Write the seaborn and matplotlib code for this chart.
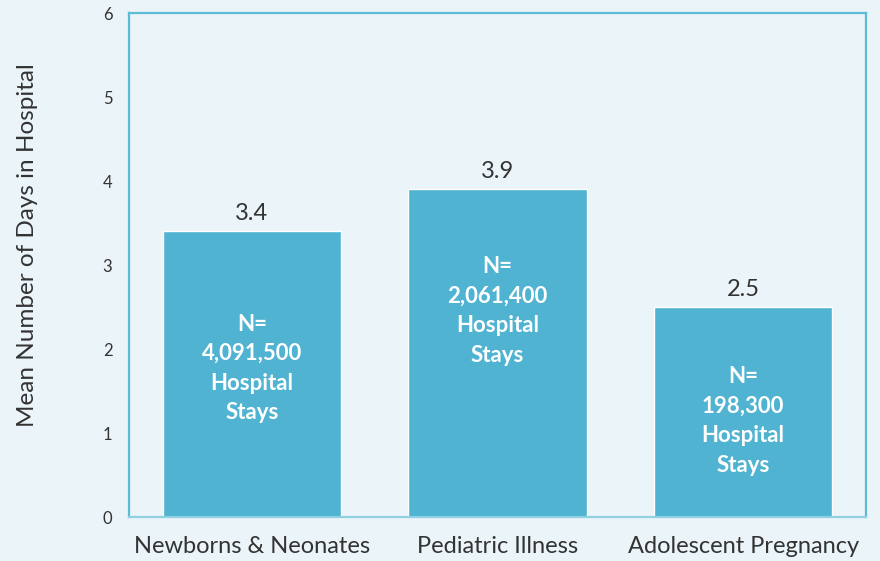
import numpy as np
import pandas as pd
import seaborn as sns
import matplotlib.pyplot as plt

categories = ["Newborns & Neonates", "Pediatric Illness", "Adolescent Pregnancy"]
mean_days = [3.4, 3.9, 2.5]
stay_counts = ["4,091,500", "2,061,400", "198,300"]
yticks = [0, 1, 2, 3, 4, 5, 6]

# vertical centre of the in-bar note, in data units
note_y = [1.77, 2.45, 1.14]

bg = "#ebf4f8"
bar_color = "#4fb3d1"
frame_color = "#5bbcd6"
text_color = "#333333"

sns.set_theme(style="white", rc={"axes.facecolor": bg, "figure.facecolor": bg})
plt.rcParams["font.family"] = ["Lato", "DejaVu Sans"]

df = pd.DataFrame({"category": categories, "days": mean_days})

fig = plt.figure(figsize=(8.8, 5.61), dpi=100)
ax = fig.add_axes([129 / 880, 1 - 517 / 561, 737 / 880, 504 / 561])
sns.barplot(data=df, x="category", y="days", color=bar_color, width=0.725,
            saturation=1, ax=ax)

ax.set_xlim(-0.5, 2.5)
ax.set_ylim(0, 6)
ax.set_yticks(yticks)
ax.set_yticklabels([str(t) for t in yticks], fontsize=12, color=text_color)
ax.tick_params(axis="y", length=0, pad=12)
ax.tick_params(axis="x", length=0, pad=14, labelsize=17, labelcolor=text_color)
ax.set_xlabel("")
ax.set_ylabel("Mean Number of Days in Hospital", fontsize=17.5, color=text_color)
ax.yaxis.set_label_coords(-0.123, 0.54)

for side in ["left", "top", "right"]:
    ax.spines[side].set_color(frame_color)
    ax.spines[side].set_linewidth(1.6)
ax.spines["bottom"].set_color("#8fd0e3")
ax.spines["bottom"].set_linewidth(1.6)

for i, (v, n, ny) in enumerate(zip(mean_days, stay_counts, note_y)):
    ax.annotate(f"{v}", (i, v), xytext=(0, 5), textcoords="offset points",
                ha="center", va="bottom", fontsize=17, color=text_color)
    ax.text(i, ny, f"N=\n{n}\nHospital\nStays", ha="center", va="center",
            fontsize=16, fontweight="bold", color="white", linespacing=1.5)

plt.savefig("out.png", dpi=100, facecolor=bg)
